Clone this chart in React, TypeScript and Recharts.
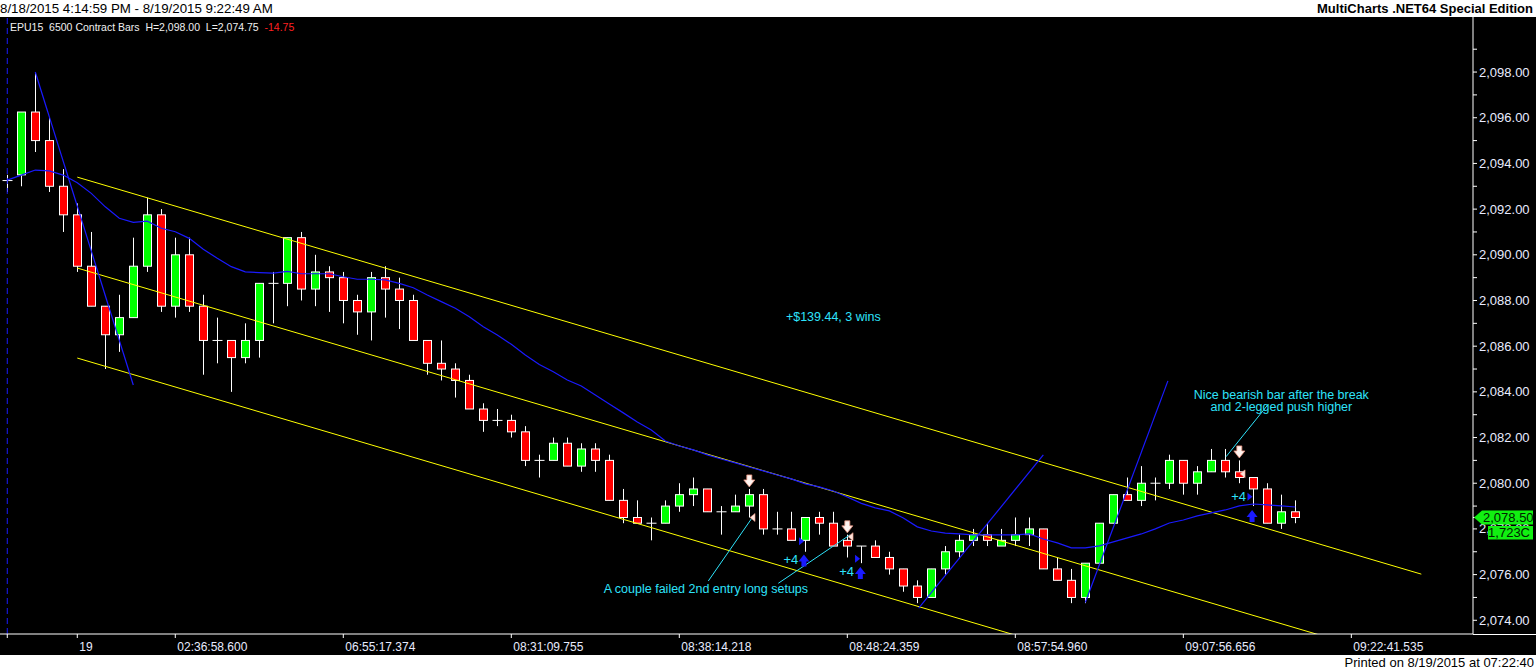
import React from "react";
import { ComposedChart, Bar, Line, XAxis, YAxis, ReferenceLine, ReferenceDot } from "recharts";

// EPU15, 6500 contract bars, 8/18/2015 4:14:59 PM - 8/19/2015 9:22:49 AM
const OPENS = [
  2093.25, 2093.5, 2096.25, 2095.0, 2093.0, 2091.75, 2089.5, 2087.75, 2086.5, 2087.25,
  2089.5, 2091.75, 2087.75, 2090.0, 2087.75, 2086.25, 2086.25, 2085.5, 2086.25, 2088.75,
  2088.75, 2090.75, 2088.5, 2089.25, 2089.0, 2088.0, 2087.5, 2089.0, 2088.5, 2088.0,
  2086.25, 2085.25, 2085.0, 2084.5, 2083.25, 2082.75, 2082.75, 2082.25, 2081.0, 2081.0,
  2081.75, 2080.75, 2081.5, 2081.0, 2079.25, 2078.5, 2078.25, 2078.25, 2079.0, 2079.5,
  2079.75, 2078.75, 2078.75, 2079.0, 2079.5, 2078.0, 2078.0, 2077.5, 2078.5, 2078.25,
  2077.5, 2077.25, 2077.25, 2076.75, 2076.25, 2075.5, 2075.0, 2076.25, 2077.0, 2077.5,
  2077.75, 2077.25, 2077.5, 2077.75, 2078.0, 2076.25, 2075.75, 2075.0, 2076.5, 2078.25,
  2079.5, 2079.25, 2080.0, 2080.0, 2081.0, 2080.0, 2080.5, 2081.0, 2080.5, 2080.25,
  2079.75, 2078.25, 2078.75,
];
const HIGHS = [
  2093.5, 2096.25, 2098.0, 2096.0, 2093.75, 2092.25, 2091.0, 2087.75, 2088.25, 2090.75,
  2092.5, 2092.0, 2090.75, 2090.75, 2088.25, 2087.25, 2086.25, 2087.0, 2088.75, 2089.25,
  2090.75, 2091.0, 2090.0, 2089.5, 2089.25, 2088.25, 2089.25, 2089.5, 2089.0, 2088.25,
  2086.25, 2086.25, 2085.25, 2084.75, 2083.5, 2083.25, 2083.0, 2082.5, 2081.25, 2082.0,
  2082.0, 2081.75, 2081.75, 2081.25, 2079.75, 2079.25, 2078.5, 2079.25, 2080.0, 2080.25,
  2079.75, 2079.0, 2079.5, 2079.75, 2079.75, 2078.75, 2078.75, 2078.5, 2078.75, 2078.75,
  2077.75, 2077.25, 2077.5, 2077.0, 2076.25, 2075.75, 2076.25, 2077.25, 2077.75, 2078.0,
  2078.25, 2078.0, 2078.5, 2078.5, 2078.0, 2076.75, 2076.25, 2076.5, 2078.25, 2079.5,
  2080.25, 2080.75, 2080.25, 2081.25, 2081.0, 2080.75, 2081.5, 2081.5, 2081.0, 2080.25,
  2080.0, 2079.5, 2079.25,
];
const LOWS = [
  2092.75, 2093.0, 2094.5, 2092.75, 2091.0, 2089.25, 2087.75, 2085.0, 2085.75, 2087.25,
  2089.25, 2087.5, 2087.25, 2087.5, 2084.75, 2085.25, 2084.0, 2085.25, 2085.5, 2087.0,
  2087.75, 2088.0, 2087.75, 2087.5, 2087.0, 2086.5, 2086.25, 2087.25, 2086.75, 2086.25,
  2084.75, 2084.5, 2083.75, 2083.25, 2082.25, 2082.5, 2082.0, 2080.75, 2080.25, 2081.0,
  2080.75, 2080.5, 2080.5, 2079.25, 2078.25, 2078.25, 2077.5, 2078.25, 2078.75, 2079.0,
  2078.75, 2077.75, 2078.75, 2078.5, 2077.75, 2077.75, 2077.5, 2077.0, 2077.75, 2077.25,
  2076.75, 2076.5, 2076.75, 2076.0, 2075.25, 2074.75, 2075.0, 2076.0, 2076.75, 2077.25,
  2077.25, 2077.25, 2077.25, 2077.25, 2076.25, 2075.75, 2074.75, 2074.75, 2076.5, 2078.25,
  2079.25, 2079.0, 2079.25, 2079.75, 2079.5, 2079.5, 2080.5, 2080.25, 2080.0, 2079.0,
  2078.25, 2078.0, 2078.25,
];
const CLOSES = [
  2093.25, 2096.25, 2095.0, 2093.0, 2091.75, 2089.5, 2087.75, 2086.5, 2087.25, 2089.5,
  2091.75, 2087.75, 2090.0, 2087.75, 2086.25, 2086.25, 2085.5, 2086.25, 2088.75, 2088.75,
  2090.75, 2088.5, 2089.25, 2089.0, 2088.0, 2087.5, 2089.0, 2088.5, 2088.0, 2086.25,
  2085.25, 2085.0, 2084.5, 2083.25, 2082.75, 2082.75, 2082.25, 2081.0, 2081.0, 2081.75,
  2080.75, 2081.5, 2081.0, 2079.25, 2078.5, 2078.25, 2078.25, 2079.0, 2079.5, 2079.75,
  2078.75, 2078.75, 2079.0, 2079.5, 2078.0, 2078.0, 2077.5, 2078.5, 2078.25, 2077.25,
  2077.25, 2077.25, 2076.75, 2076.25, 2075.5, 2075.0, 2076.25, 2077.0, 2077.5, 2077.75,
  2077.5, 2077.5, 2077.75, 2078.0, 2076.25, 2075.75, 2075.0, 2076.5, 2078.25, 2079.5,
  2079.25, 2080.0, 2080.0, 2081.0, 2080.0, 2080.5, 2081.0, 2080.5, 2080.25, 2079.75,
  2078.25, 2078.75, 2078.5,
];
// moving average (blue)
const MA = [
  2093.27, 2093.49, 2093.71, 2093.67, 2093.49, 2093.15, 2092.69, 2092.1, 2091.6, 2091.42,
  2091.47, 2091.16, 2091.01, 2090.72, 2090.24, 2089.85, 2089.48, 2089.25, 2089.22, 2089.2,
  2089.27, 2089.17, 2089.17, 2089.17, 2089.04, 2088.93, 2088.93, 2088.9, 2088.75, 2088.56,
  2088.24, 2087.95, 2087.66, 2087.29, 2086.85, 2086.49, 2086.08, 2085.61, 2085.2, 2084.88,
  2084.52, 2084.26, 2083.86, 2083.47, 2083.08, 2082.68, 2082.33, 2081.85, 2081.63, 2081.46,
  2081.24, 2081.06, 2080.89, 2080.71, 2080.54, 2080.36, 2080.19, 2079.97, 2079.84, 2079.66,
  2079.4, 2079.12, 2078.92, 2078.79, 2078.48, 2078.09, 2077.91, 2077.82, 2077.78, 2077.74,
  2077.74, 2077.74, 2077.74, 2077.78, 2077.56, 2077.39, 2077.17, 2077.17, 2077.26, 2077.43,
  2077.61, 2077.78, 2078.0, 2078.26, 2078.39, 2078.57, 2078.7, 2078.83, 2079.01, 2079.09,
  2079.05, 2079.01, 2078.96,
];

const X_TICKS = [0, 5, 12, 24, 36, 48, 60, 72, 84, 96];
const X_LABELS = [
  "", "19", "02:36:58.600", "06:55:17.374", "08:31:09.755", "08:38:14.218",
  "08:48:24.359", "08:57:54.960", "09:07:56.656", "09:22:41.535",
];
const Y_TICKS = [
  2074, 2075, 2076, 2077, 2078, 2079, 2080, 2081, 2082, 2083, 2084, 2085, 2086,
  2087, 2088, 2089, 2090, 2091, 2092, 2093, 2094, 2095, 2096, 2097, 2098, 2099,
];

// yellow channel: start/end bar and prices at both ends
const CHANNEL_FROM = 5;
const CHANNEL_TO = 101;
const CHANNEL_LINES = [
  [2093.4, 2076.02],
  [2089.42, 2072.04],
  [2085.48, 2068.1],
];
// blue swing lines: [bar, price, bar, price]
const SWING_LINES = [
  [2, 2098.0, 9, 2084.3],
  [65.1, 2074.53, 74, 2081.24],
  [77, 2074.78, 82.9, 2084.48],
];

const SELL_ARROWS = [
  { i: 53, p: 2080.1 },
  { i: 60, p: 2078.09 },
  { i: 88, p: 2081.37 },
];
const SELL_EXITS = [
  { i: 53.23, p: 2078.5 },
  { i: 60.23, p: 2077.66 },
  { i: 88.23, p: 2080.41 },
];
const BUY_ARROWS = [
  { i: 56.9, p: 2076.62 },
  { i: 60.93, p: 2076.07 },
  { i: 88.91, p: 2078.57 },
];
const BUY_EXITS = [
  { i: 56.73, p: 2077.46 },
  { i: 60.73, p: 2076.69 },
  { i: 88.76, p: 2079.41 },
];
const PROFITS = [
  { i: 56.5, p: 2076.67, text: "+4" },
  { i: 60.48, p: 2076.13, text: "+4" },
  { i: 88.48, p: 2079.41, text: "+4" },
];
const NOTES = [
  { i: 59, p: 2087.32, lines: ["+$139.44, 3 wins"] },
  { i: 49.9, p: 2075.37, lines: ["A couple failed 2nd entry long setups"] },
  { i: 91, p: 2083.9, lines: ["Nice bearish bar after the break", "and 2-legged push higher"] },
];
const NOTE_LINES = [
  [50.07, 2075.72, 53.17, 2078.46],
  [55.07, 2075.62, 60.19, 2077.74],
  [90.03, 2083.43, 87.05, 2081.16],
];

const LAST_PRICE = 2078.5;
const LAST_PRICE_TEXT = "2,078.50";
const LAST_VOLUME_TEXT = "1,723C";

const BLUE = "#1a1aff";
const CYAN = "#2ee3fb";
const YELLOW = "#ffff00";
const TAG_GREEN = "#11f011";
const AXIS_TEXT = "#e8ecff";
const FONT = "'Liberation Sans', Arial, sans-serif";
const Y_TICK_GAP = 6; // tickSize + tickMargin of the price axis

const rows = OPENS.map((o, i) => ({
  i,
  open: o,
  high: HIGHS[i],
  low: LOWS[i],
  close: CLOSES[i],
  ma: MA[i],
}));

function Candle(props: any) {
  const { x, y, width, height, payload } = props;
  if (!payload || height == null) return null;
  const { open, high, low, close } = payload;
  const top = Math.min(y, y + height);
  const h = Math.abs(height);
  const ppu = high > low ? h / (high - low) : 0;
  const cx = Math.round(x + width / 2) + 0.5;
  const py = (v: number) => top + (high - v) * ppu;
  const yo = py(open);
  const yc = py(close);
  if (open === close) {
    return (
      <g>
        <line x1={cx} x2={cx} y1={top} y2={top + h} stroke="#fff" />
        <line x1={cx - 5} x2={cx + 5} y1={yo} y2={yo} stroke="#fff" />
      </g>
    );
  }
  const bt = Math.min(yo, yc);
  const bb = Math.max(yo, yc);
  return (
    <g>
      <line x1={cx} x2={cx} y1={top} y2={top + h} stroke="#fff" />
      <rect
        x={cx - 4}
        y={bt}
        width={8}
        height={bb - bt}
        fill={close > open ? "#00ff00" : "#ff0000"}
        stroke="#fff"
        strokeWidth={1}
      />
    </g>
  );
}

function XTick(props: any) {
  const { x, y, payload } = props;
  const label = X_LABELS[X_TICKS.indexOf(payload.value)] || "";
  return (
    <text x={x + 2} y={y + 11} fill={AXIS_TEXT} fontSize={12} fontFamily={FONT} textAnchor="start">
      {label}
    </text>
  );
}

// last-price tag, drawn as the last tick so it sits over the axis labels
function PriceTag({ x0, y0 }: { x0: number; y0: number }) {
  return (
    <g fontFamily={FONT}>
      <path
        d={`M${x0 + 1},${y0} L${x0 + 9},${y0 - 7} L${x0 + 60},${y0 - 7} L${x0 + 60},${y0 + 7} L${x0 + 9},${y0 + 7} Z`}
        fill={TAG_GREEN}
      />
      <text x={x0 + 10} y={y0 + 5} textAnchor="start" fontSize={13} fill="#002200">
        {LAST_PRICE_TEXT}
      </text>
      <rect x={x0 + 15} y={y0 + 8.5} width={45} height={13.5} fill={TAG_GREEN} />
      <text x={x0 + 57} y={y0 + 19.5} textAnchor="end" fontSize={13} fill="#002200">
        {LAST_VOLUME_TEXT}
      </text>
    </g>
  );
}

function YTick(props: any) {
  const { x, y, payload } = props;
  if (payload.value === LAST_PRICE) return <PriceTag x0={x - Y_TICK_GAP} y0={y} />;
  if (payload.value % 2 !== 0) return null;
  const label = payload.value.toLocaleString("en-US", { minimumFractionDigits: 2 });
  return (
    <text x={x} y={y + 4.5} fill={AXIS_TEXT} fontSize={13} fontFamily={FONT} textAnchor="start">
      {label}
    </text>
  );
}

const SellArrow = ({ cx, cy }: any) => (
  <path
    d={`M${cx - 2.5},${cy - 6} h5 v5 h3 L${cx},${cy + 6} L${cx - 5.5},${cy - 1} h3 Z`}
    fill="#fff4f0"
    stroke="#e8937f"
    strokeWidth={0.8}
  />
);
const BuyArrow = ({ cx, cy }: any) => (
  <path d={`M${cx - 2.5},${cy + 6} h5 v-5 h3 L${cx},${cy - 6} L${cx - 5.5},${cy + 1} h3 Z`} fill={BLUE} />
);
const SellExit = ({ cx, cy }: any) => (
  <path
    d={`M${cx + 2.5},${cy - 4} L${cx + 2.5},${cy + 4} L${cx - 2.5},${cy} Z`}
    fill="#ffe4dc"
    stroke="#e8937f"
    strokeWidth={0.6}
  />
);
const BuyExit = ({ cx, cy }: any) => (
  <path d={`M${cx - 2.5},${cy - 4} L${cx - 2.5},${cy + 4} L${cx + 2.5},${cy} Z`} fill={BLUE} />
);

export default function App() {
  return (
    <div
      style={{
        position: "absolute",
        left: 0,
        top: 0,
        width: 1536,
        height: 670,
        background: "#000",
        fontFamily: FONT,
        overflow: "hidden",
      }}
    >
      <div
        style={{
          height: 17,
          background: "#fff",
          color: "#000",
          fontSize: 13.3,
          lineHeight: "17px",
          position: "relative",
        }}
      >
        <span style={{ position: "absolute", left: 0 }}>8/18/2015 4:14:59 PM - 8/19/2015 9:22:49 AM</span>
        <span style={{ position: "absolute", right: 3, fontWeight: "bold", fontSize: 13 }}>
          MultiCharts .NET64 Special Edition
        </span>
      </div>

      <div style={{ position: "relative", width: 1536, height: 638 }}>
        <ComposedChart width={1536} height={638} data={rows} margin={{ top: 0, right: 0, bottom: 0, left: 0 }}>
          <XAxis
            dataKey="i"
            type="number"
            domain={[-0.52, 104.69]}
            allowDataOverflow
            ticks={X_TICKS}
            interval={0}
            height={21}
            tickSize={4}
            tickMargin={2}
            tick={<XTick />}
            axisLine={{ stroke: "#fff" }}
            tickLine={{ stroke: "#fff" }}
          />
          <YAxis
            orientation="right"
            type="number"
            domain={[2073.4, 2100.41]}
            allowDataOverflow
            ticks={[...Y_TICKS, LAST_PRICE]}
            interval={0}
            width={63}
            tickSize={4}
            tickMargin={2}
            tick={<YTick />}
            axisLine={{ stroke: "#fff" }}
            tickLine={{ stroke: "#fff" }}
          />
          <ReferenceLine x={0} stroke={BLUE} strokeDasharray="6 4" />
          {CHANNEL_LINES.map((c, k) => (
            <ReferenceLine
              key={`ch${k}`}
              ifOverflow="hidden"
              stroke={YELLOW}
              segment={[
                { x: CHANNEL_FROM, y: c[0] },
                { x: CHANNEL_TO, y: c[1] },
              ]}
            />
          ))}
          <Bar
            dataKey={(d: any) => [d.low, d.high]}
            barSize={8}
            shape={(p: any) => <Candle {...p} />}
            isAnimationActive={false}
          />
          <Line dataKey="ma" stroke={BLUE} strokeWidth={1.2} dot={false} activeDot={false} isAnimationActive={false} />
          {SWING_LINES.map((s, k) => (
            <ReferenceLine
              key={`sw${k}`}
              ifOverflow="hidden"
              stroke={BLUE}
              strokeWidth={1.2}
              segment={[
                { x: s[0], y: s[1] },
                { x: s[2], y: s[3] },
              ]}
            />
          ))}
          {NOTE_LINES.map((s, k) => (
            <ReferenceLine
              key={`nl${k}`}
              stroke={CYAN}
              segment={[
                { x: s[0], y: s[1] },
                { x: s[2], y: s[3] },
              ]}
            />
          ))}
          {SELL_ARROWS.map((m, k) => (
            <ReferenceDot key={`sa${k}`} x={m.i} y={m.p} r={0} shape={(p: any) => <SellArrow cx={p.cx} cy={p.cy} />} />
          ))}
          {SELL_EXITS.map((m, k) => (
            <ReferenceDot key={`se${k}`} x={m.i} y={m.p} r={0} shape={(p: any) => <SellExit cx={p.cx} cy={p.cy} />} />
          ))}
          {BUY_ARROWS.map((m, k) => (
            <ReferenceDot key={`ba${k}`} x={m.i} y={m.p} r={0} shape={(p: any) => <BuyArrow cx={p.cx} cy={p.cy} />} />
          ))}
          {BUY_EXITS.map((m, k) => (
            <ReferenceDot key={`be${k}`} x={m.i} y={m.p} r={0} shape={(p: any) => <BuyExit cx={p.cx} cy={p.cy} />} />
          ))}
          {PROFITS.map((m, k) => (
            <ReferenceDot
              key={`pf${k}`}
              x={m.i}
              y={m.p}
              r={0}
              shape={(p: any) => (
                <text x={p.cx} y={p.cy + 4.5} textAnchor="end" fill={CYAN} fontSize={13} fontFamily={FONT}>
                  {m.text}
                </text>
              )}
            />
          ))}
          {NOTES.map((n, k) => (
            <ReferenceDot
              key={`nt${k}`}
              x={n.i}
              y={n.p}
              r={0}
              shape={(p: any) => (
                <text x={p.cx} y={p.cy + 4.5} textAnchor="middle" fill={CYAN} fontSize={12.5} fontFamily={FONT}>
                  {n.lines.map((l, j) => (
                    <tspan key={j} x={p.cx} dy={j === 0 ? 0 : 12}>
                      {l}
                    </tspan>
                  ))}
                </text>
              )}
            />
          ))}
        </ComposedChart>
        <div
          style={{
            position: "absolute",
            left: 10,
            top: 4,
            fontSize: 10.5,
            color: "#f0f0f0",
            whiteSpace: "pre",
          }}
        >
          {"EPU15  6500 Contract Bars  H=2,098.00  L=2,074.75  "}
          <span style={{ color: "#ff2020" }}>-14.75</span>
        </div>
        <div
          style={{
            position: "absolute",
            left: 1473,
            top: 616.5,
            width: 63,
            height: 1,
            background: "#fff",
          }}
        />
      </div>

      <div
        style={{
          height: 15,
          background: "#fff",
          color: "#000",
          fontSize: 13,
          lineHeight: "15px",
          textAlign: "right",
          paddingRight: 2,
        }}
      >
        Printed on 8/19/2015 at 07:22:40
      </div>
    </div>
  );
}
